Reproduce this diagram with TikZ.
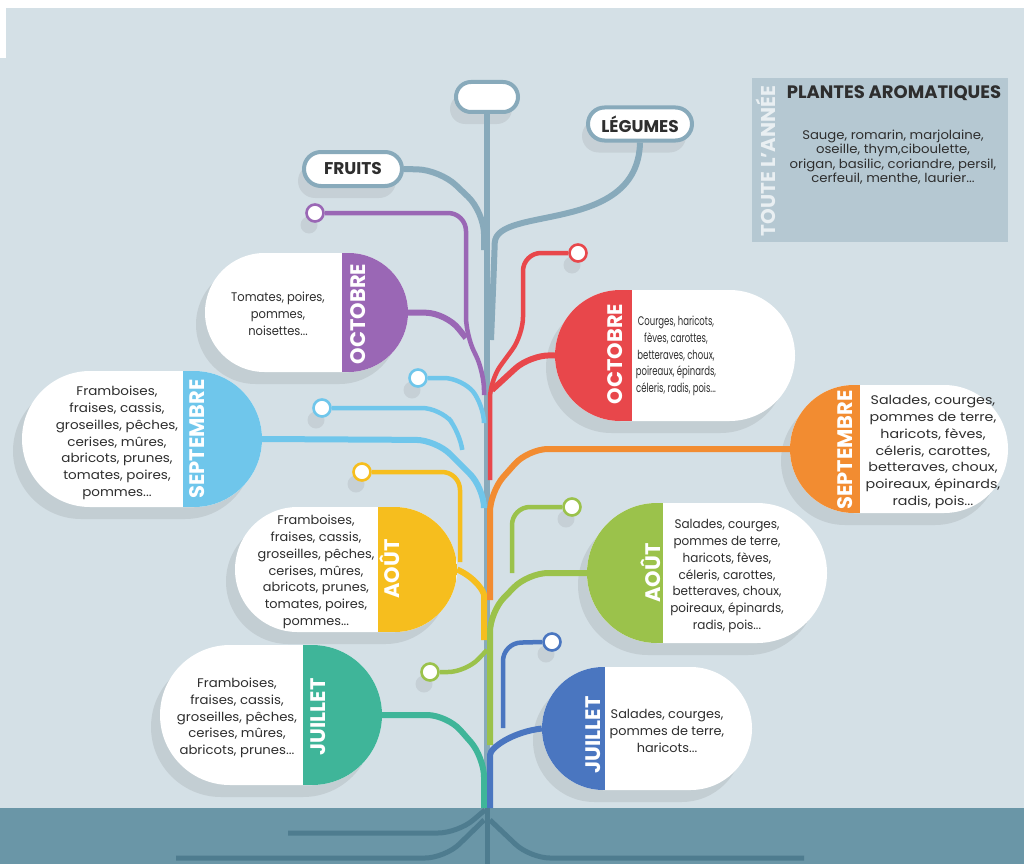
\documentclass[tikz,border=0pt]{standalone}
\usepackage{fontspec}
\setmainfont{Poppins}
\usepackage{tikz}
\usetikzlibrary{shapes.misc,shadows}
\definecolor{bg}{HTML}{D4E0E6}
\definecolor{soil}{HTML}{6A96A7}
\definecolor{rootc}{HTML}{4E7C8F}
\definecolor{stemc}{HTML}{88AABB}
\definecolor{plum}{HTML}{9A67B5}
\definecolor{berry}{HTML}{E8474B}
\definecolor{sky}{HTML}{6FC6EB}
\definecolor{tang}{HTML}{F28C31}
\definecolor{sun}{HTML}{F6BE1E}
\definecolor{leaf}{HTML}{9BC24B}
\definecolor{mint}{HTML}{3FB599}
\definecolor{navy}{HTML}{4A76C0}
\definecolor{boxc}{HTML}{B5C8D2}
\definecolor{ink}{HTML}{2E2E2E}
\definecolor{boxtxt}{HTML}{E9EFF2}
\tikzset{
  pill/.style={rounded rectangle, fill=white, inner sep=0pt,
    drop shadow={shadow xshift=-9pt, shadow yshift=-12pt, opacity=.12, fill=black!70}},
  pillR/.style 2 args={pill, path picture={\fill[#1] ([xshift=-#2]path picture bounding box.north east) rectangle (path picture bounding box.south east);}},
  pillL/.style 2 args={pill, path picture={\fill[#1] (path picture bounding box.north west) rectangle ([xshift=#2]path picture bounding box.south west);}},
  tag/.style={rounded rectangle, fill=white, draw=stemc, line width=4pt, inner sep=0pt,
    drop shadow={shadow xshift=-6pt, shadow yshift=-12pt, opacity=.10, fill=black!70},
    font=\bfseries\fontsize{17}{17}\selectfont, text=ink},
  bud/.style={circle, fill=white, draw=#1, line width=2.6pt, minimum size=17pt, inner sep=0pt,
    drop shadow={shadow xshift=-6pt, shadow yshift=-12pt, opacity=.10, fill=black!70}},
  br/.style={draw=#1, line width=6pt, rounded corners=20pt},
  twig/.style={draw=#1, line width=4.5pt, rounded corners=18pt},
  stem/.style={draw=stemc, line width=6pt, rounded corners=22pt},
  root/.style={draw=rootc, line width=5pt, rounded corners=20pt},
  txt/.style={align=center, text=ink, inner sep=0pt,
    font=\fontsize{12.5}{16.8}\selectfont\addfontfeatures{FakeStretch=#1}},
  txt/.default=1,
  mon/.style={rotate=90, text=white, inner sep=0pt, font=\bfseries\fontsize{21}{21}\selectfont},
}
\begin{document}
\begin{tikzpicture}[x=1pt,y=-1pt]
  \useasboundingbox (0,0) rectangle (1024,864);
  \fill[white] (0,0) rectangle (1024,864);
  \fill[bg] (0,8) rectangle (1024,864);
  \fill[white] (0,8) rectangle (6,58);
  \fill[soil] (0,808) rectangle (1024,864);

  % plantes aromatiques
  \fill[boxc] (752,78) rectangle (1008,242);
  \node[mon, text=boxtxt, font=\bfseries\fontsize{20}{20}\selectfont] (annee) at (766,161) {TOUTE L'ANNÉE};
  \node[txt, font=\bfseries\fontsize{18}{18}\selectfont] (arom) at (894,93) {PLANTES AROMATIQUES};
  \node[txt, font=\fontsize{12.5}{14.5}\selectfont\addfontfeatures{FakeStretch=1.06}] (aromT) at (893,157) {Sauge, romarin, marjolaine,\\oseille, thym,ciboulette,\\origan, basilic, coriandre, persil,\\cerfeuil, menthe, laurier...};

  % tags
  \node[tag, minimum width=62pt, minimum height=30pt] (top) at (487,97) {};
  \node[tag, minimum width=98pt, minimum height=34pt] (fr) at (353,169) {FRUITS};
  \node[tag, minimum width=104pt, minimum height=33pt] (le) at (640,124) {LÉGUMES};

  % fruits
  \node[pillR={plum}{66pt}, minimum width=203pt, minimum height=119pt] (octF) at (306.5,312.5) {};
  \node[pillR={sky}{79pt}, minimum width=240pt, minimum height=136pt] (sepF) at (142,439) {};
  \node[pillR={sun}{79pt}, minimum width=222pt, minimum height=125pt] (aouF) at (346,569.5) {};
  \node[pillR={mint}{79pt}, minimum width=222pt, minimum height=140pt] (juiF) at (271,715) {};
  % legumes
  \node[pillL={berry}{77pt}, minimum width=240pt, minimum height=131pt] (octL) at (675,355.5) {};
  \node[pillL={tang}{70pt}, minimum width=218pt, minimum height=128pt] (sepL) at (899,449) {};
  \node[pillL={leaf}{76pt}, minimum width=240pt, minimum height=140pt] (aouL) at (707,573) {};
  \node[pillL={navy}{63pt}, minimum width=210pt, minimum height=123pt] (juiL) at (647,728.5) {};

  \node[mon] (mOctF) at (358,314) {OCTOBRE};
  \node[mon] (mSepF) at (197,439) {SEPTEMBRE};
  \node[mon] (mAouF) at (390,569) {AOÛT};
  \node[mon] (mJuiF) at (318,717) {JUILLET};
  \node[mon] (mOctL) at (615,354) {OCTOBRE};
  \node[mon] (mSepL) at (845,450) {SEPTEMBRE};
  \node[mon] (mAouL) at (651,573) {AOÛT};
  \node[mon] (mJuiL) at (593,735) {JUILLET};

  \node[txt=0.92] (tOctF) at (278,314) {Tomates, poires,\\pommes,\\noisettes...};
  \node[txt=1.08] (tSepF) at (117,443) {Framboises,\\fraises, cassis,\\groseilles, pêches,\\cerises, mûres,\\abricots, prunes,\\tomates, poires,\\pommes...};
  \node[txt=1.03] (tAouF) at (316,572) {Framboises,\\fraises, cassis,\\groseilles, pêches,\\cerises, mûres,\\abricots, prunes,\\tomates, poires,\\pommes...};
  \node[txt=1.06] (tJuiF) at (237,718) {Framboises,\\fraises, cassis,\\groseilles, pêches,\\cerises, mûres,\\abricots, prunes...};
  \node[txt=0.68] (tOctL) at (676,356) {Courges, haricots,\\fèves, carottes,\\betteraves, choux,\\poireaux, épinards,\\céleris, radis, pois...};
  \node[txt=1.14] (tSepL) at (933,452) {Salades, courges,\\pommes de terre,\\haricots, fèves,\\céleris, carottes,\\betteraves, choux,\\poireaux, épinards,\\radis, pois...};
  \node[txt=0.96] (tAouL) at (727,576) {Salades, courges,\\pommes de terre,\\haricots, fèves,\\céleris, carottes,\\betteraves, choux,\\poireaux, épinards,\\radis, pois...};
  \node[txt=1.03] (tJuiL) at (667,731) {Salades, courges,\\pommes de terre,\\haricots...};

  % buds
  \node[bud=plum] (bP) at (315,213) {};
  \node[bud=berry] (bR) at (578,253) {};
  \node[bud=sky] (bS1) at (418,378) {};
  \node[bud=sky] (bS2) at (322,408) {};
  \node[bud=sun] (bY) at (362,472) {};
  \node[bud=leaf] (bG1) at (572,507) {};
  \node[bud=leaf] (bG2) at (430,672) {};
  \node[bud=navy] (bN) at (552,642) {};

  % trunk
  \coordinate (foot) at (487,808);
  \draw[stem] (top.south) -- (foot);
  \draw[stem] (fr.east) -- (440,170) -- (484,212) -- (484,250);
  \draw[stem] (le.south) .. controls (638,235) and (496,205) .. (494,265) -- (491,340);

  % branches, fruits side
  \draw[twig=plum] (bP.east) -- (466,213) -- (466,335) -- (484,372) -- (484,395);
  \draw[br=plum] (octF.east) -- (446,313) -- (466,338);
  \draw[twig=sky] (bS1.east) -- (462,378) -- (484,405) -- (484,420);
  \draw[twig=sky] (bS2.east) -- (440,408) -- (460,432) -- (462,448);
  \draw[br=sky] (sepF.east) -- (436,440) -- (484,488) -- (484,505);
  \draw[twig=sun] (bY.east) -- (460,472) -- (460,562);
  \draw[br=sun] (aouF.east) .. controls (476,578) and (484,592) .. (484,615) -- (484,640);
  \draw[br=mint] (juiF.east) -- (447,715) -- (484,757) -- (484,808);

  % branches, legumes side
  \draw[twig=berry] (bR.west) -- (523,253) -- (523,335) -- (490,380) -- (490,480);
  \draw[br=berry] (octL.west) -- (530,355) -- (492,390);
  \draw[br=tang] (sepL.west) -- (528,449) -- (490,492) -- (490,600);
  \draw[twig=leaf] (bG1.west) -- (512,507) -- (512,573);
  \draw[br=leaf] (aouL.west) -- (528,573) -- (490,612) -- (490,745);
  \draw[twig=leaf] (bG2.east) -- (466,672) -- (487,650);
  \draw[twig=navy] (bN.west) -- (503,643) -- (503,728);
  \draw[br=navy] (juiL.west) .. controls (512,732) and (490,748) .. (490,775) -- (490,808);

  % roots
  \draw[root] (foot) -- (487,864);
  \draw[root] (288,833) -- (458,833) -- (485,810);
  \draw[root] (176,858) -- (445,858) -- (484,820);
  \draw[root] (804,858) -- (530,858) -- (490,820);
\end{tikzpicture}
\end{document}
